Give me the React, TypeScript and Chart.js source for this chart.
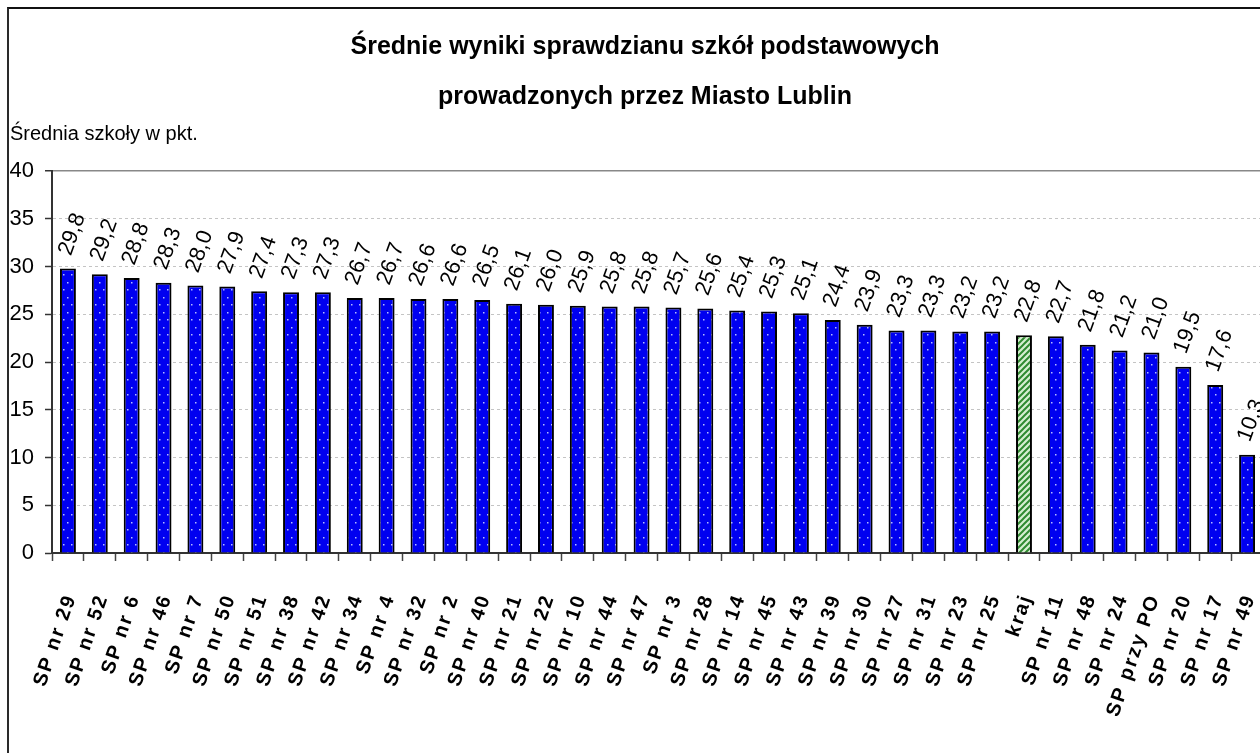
import { useEffect, useRef } from 'react';
import { Chart, registerables } from 'chart.js';

Chart.register(...registerables);

const categories: string[] = [
  'SP nr 29', 'SP nr 52', 'SP nr 6', 'SP nr 46', 'SP nr 7', 'SP nr 50', 'SP nr 51', 'SP nr 38',
  'SP nr 42', 'SP nr 34', 'SP nr 4', 'SP nr 32', 'SP nr 2', 'SP nr 40', 'SP nr 21', 'SP nr 22',
  'SP nr 10', 'SP nr 44', 'SP nr 47', 'SP nr 3', 'SP nr 28', 'SP nr 14', 'SP nr 45', 'SP nr 43',
  'SP nr 39', 'SP nr 30', 'SP nr 27', 'SP nr 31', 'SP nr 23', 'SP nr 25', 'kraj', 'SP nr 11',
  'SP nr 48', 'SP nr 24', 'SP przy PO', 'SP nr 20', 'SP nr 17', 'SP nr 49',
];

const values: number[] = [
  29.8, 29.2, 28.8, 28.3, 28.0, 27.9, 27.4, 27.3,
  27.3, 26.7, 26.7, 26.6, 26.6, 26.5, 26.1, 26.0,
  25.9, 25.8, 25.8, 25.7, 25.6, 25.4, 25.3, 25.1,
  24.4, 23.9, 23.3, 23.3, 23.2, 23.2, 22.8, 22.7,
  21.8, 21.2, 21.0, 19.5, 17.6, 10.3,
];

const highlightCategory = 'kraj';
const titleLines: string[] = ['Średnie wyniki sprawdzianu szkół podstawowych', 'prowadzonych przez Miasto Lublin'];
const yAxisTitle = 'Średnia szkoły w pkt.';
const yMin = 0;
const yMax = 40;
const yStep = 5;

const FONT = "'Liberation Sans', Arial, sans-serif";
const NARROW = "'Liberation Sans Narrow', 'Liberation Sans', Arial, sans-serif";

function makeDotPattern(): CanvasPattern | string {
  const c = document.createElement('canvas');
  c.width = 8;
  c.height = 15;
  const g = c.getContext('2d');
  if (!g) return '#0000f2';
  g.fillStyle = '#0000f0';
  g.fillRect(0, 0, 8, 15);
  g.fillStyle = '#b4bcff';
  g.fillRect(2, 3, 1.5, 1.5);
  g.fillRect(6, 10, 1.5, 1.5);
  return g.createPattern(c, 'repeat') || '#0000f0';
}

function makeHatchPattern(): CanvasPattern | string {
  const c = document.createElement('canvas');
  c.width = 6;
  c.height = 6;
  const g = c.getContext('2d');
  if (!g) return '#3a9a3a';
  g.fillStyle = '#d6eed0';
  g.fillRect(0, 0, 6, 6);
  g.strokeStyle = '#2f8a2f';
  g.lineWidth = 2;
  g.beginPath();
  g.moveTo(-3, 3); g.lineTo(3, -3);
  g.moveTo(0, 6); g.lineTo(6, 0);
  g.moveTo(3, 9); g.lineTo(9, 3);
  g.stroke();
  return g.createPattern(c, 'repeat') || '#3a9a3a';
}

const fmt = (v: number) => v.toFixed(1).replace('.', ',');

const valueLabelPlugin = {
  id: 'valueLabels',
  afterDatasetsDraw(chart: any) {
    const ctx: CanvasRenderingContext2D = chart.ctx;
    const meta = chart.getDatasetMeta(0);
    ctx.save();
    ctx.font = `22px ${FONT}`;
    ctx.fillStyle = '#000';
    ctx.textAlign = 'left';
    ctx.textBaseline = 'middle';
    meta.data.forEach((el: any, i: number) => {
      const p = el.getProps(['x', 'y'], true);
      ctx.save();
      ctx.translate(p.x - 3, p.y - 14);
      ctx.rotate((-70 * Math.PI) / 180);
      ctx.fillText(fmt(values[i]), 0, 0);
      ctx.restore();
    });
    ctx.restore();
  },
};

const xLabelPlugin = {
  id: 'xLabels',
  afterDraw(chart: any) {
    const ctx: any = chart.ctx;
    const xs = chart.scales.x;
    ctx.save();
    ctx.font = `bold 20px ${FONT}`;
    ctx.fillStyle = '#000';
    ctx.letterSpacing = '2px';
    ctx.textAlign = 'right';
    ctx.textBaseline = 'middle';
    categories.forEach((lab, i) => {
      const x = xs.getPixelForTick(i);
      ctx.save();
      ctx.translate(x + 3, xs.top + 42);
      ctx.rotate((-71 * Math.PI) / 180);
      ctx.fillText(lab, 0, 0);
      ctx.restore();
    });
    ctx.letterSpacing = '0px';
    ctx.restore();
  },
};

export default function App() {
  const canvasRef = useRef<HTMLCanvasElement | null>(null);

  useEffect(() => {
    const canvas = canvasRef.current;
    if (!canvas) return;
    Chart.defaults.font.family = FONT;
    Chart.defaults.color = '#000';
    const dots = makeDotPattern();
    const hatch = makeHatchPattern();
    const chart = new Chart(canvas, {
      type: 'bar',
      data: {
        labels: categories,
        datasets: [
          {
            data: values,
            backgroundColor: categories.map((c) => (c === highlightCategory ? hatch : dots)) as any,
            borderColor: '#000',
            borderWidth: 2,
            barPercentage: 0.5,
            categoryPercentage: 1,
          },
        ],
      },
      options: {
        responsive: false,
        animation: false,
        events: [],
        layout: { padding: { left: 1, right: 19, top: 0, bottom: 0 } },
        plugins: {
          legend: { display: false },
          tooltip: { enabled: false },
          title: {
            display: true,
            text: titleLines,
            color: '#000',
            font: { size: 25, weight: 'bold', family: FONT, lineHeight: 2 },
            padding: { top: 13, bottom: 0 },
          },
          subtitle: {
            display: true,
            text: yAxisTitle,
            align: 'start',
            color: '#000',
            font: { size: 20, family: FONT, lineHeight: 1.2 },
            padding: { top: 0, bottom: 25 },
          },
        },
        scales: {
          x: {
            type: 'category',
            grid: {
              display: true,
              drawOnChartArea: false,
              drawTicks: true,
              tickLength: 8,
              tickColor: '#444',
              tickWidth: 1.5,
              offset: true,
            },
            border: { display: true, color: '#333', width: 2 },
            ticks: { display: false, autoSkip: false },
            afterFit: (s: any) => {
              s.height = 216;
            },
          },
          y: {
            type: 'linear',
            min: yMin,
            max: yMax,
            position: 'left',
            ticks: {
              stepSize: yStep,
              padding: 11,
              color: '#000',
              font: { size: 22, family: NARROW },
              callback: (v: any) => String(v),
            },
            grid: {
              color: (c: any) => (c.tick && c.tick.value === 0 ? '#333' : c.tick && c.tick.value === yMax ? '#888' : '#c4c4c4'),
              lineWidth: (c: any) => (c.tick && c.tick.value === yMax ? 1.5 : 1),
              tickLength: 7,
              tickColor: '#333',
              tickWidth: 1.5,
              tickBorderDash: [],
            },
            border: {
              display: true,
              color: '#333',
              width: 2,
              dash: (c: any) => (c.tick && (c.tick.value === 0 || c.tick.value === yMax) ? [] : [3, 3]),
            },
            afterFit: (s: any) => {
              s.width = 42;
            },
          },
          y2: {
            type: 'linear',
            position: 'right',
            display: true,
            min: 0,
            max: 1,
            grid: { display: false, drawTicks: false },
            border: { display: false },
            ticks: { display: false },
            afterFit: (s: any) => {
              s.width = 17;
            },
          },
        },
      } as any,
      plugins: [valueLabelPlugin, xLabelPlugin],
    });
    return () => {
      chart.destroy();
    };
  }, []);

  return (
    <div
      style={{
        position: 'fixed',
        left: 0,
        top: 0,
        width: 1260,
        height: 753,
        overflow: 'hidden',
        background: '#fff',
      }}
    >
      <div
        style={{
          position: 'absolute',
          left: 7,
          top: 7,
          width: 1400,
          height: 900,
          borderLeft: '2px solid #2a2a2a',
          borderTop: '2px solid #111',
          boxSizing: 'border-box',
        }}
      />
      <canvas
        ref={canvasRef}
        width={1290}
        height={760}
        style={{ position: 'absolute', left: 9, top: 9, width: 1290, height: 760 }}
      />
    </div>
  );
}
